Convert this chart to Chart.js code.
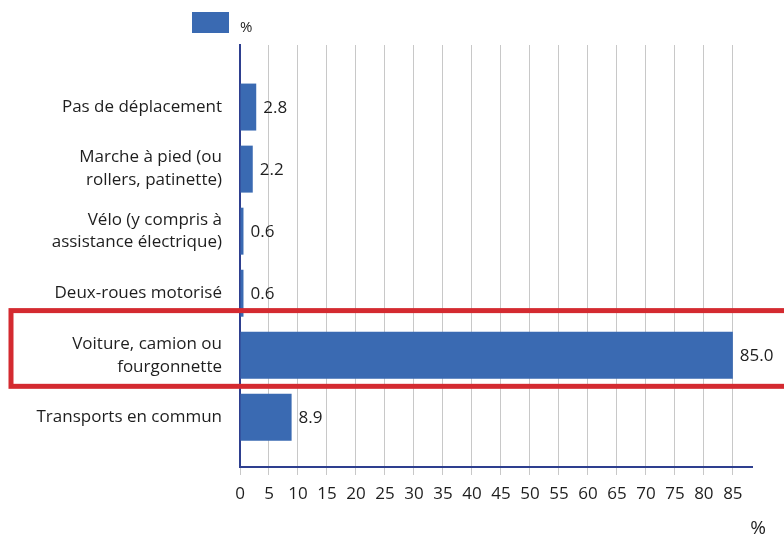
<!DOCTYPE html>
<html>
<head>
<meta charset="utf-8">
<script src="https://cdn.jsdelivr.net/npm/chart.js@4/dist/chart.umd.min.js"></script>
<style>
  html, body { margin: 0; padding: 0; background: #ffffff; }
  #wrap { width: 784px; height: 536px; }
</style>
</head>
<body>
<div id="wrap"><canvas id="chart" width="784" height="536"></canvas></div>
<script>
// Mode de transport principal pour aller travailler (%)
const categories = [
  ['Pas de déplacement'],
  ['Marche à pied (ou', 'rollers, patinette)'],
  ['Vélo (y compris à', 'assistance électrique)'],
  ['Deux-roues motorisé'],
  ['Voiture, camion ou', 'fourgonnette'],
  ['Transports en commun']
];
const shares = [2.8, 2.2, 0.6, 0.6, 85.0, 8.9];
const seriesLabel = '%';
const xTickValues = [0, 5, 10, 15, 20, 25, 30, 35, 40, 45, 50, 55, 60, 65, 70, 75, 80, 85];
const axisUnit = '%';
const highlightedIndex = 4;

const BAR_COLOR = '#3a6ab2';
const AXIS_COLOR = '#2e3f8f';
const GRID_COLOR = '#c8c8c8';
const TEXT_COLOR = '#1e1e1e';
const FRAME_COLOR = '#d42a30';
const FONT = "'Open Sans', 'DejaVu Sans', sans-serif";

// Value labels at the end of each bar
const valueLabels = {
  id: 'valueLabels',
  afterDatasetsDraw(chart) {
    const ctx = chart.ctx;
    const meta = chart.getDatasetMeta(0);
    ctx.save();
    ctx.font = '17px ' + FONT;
    ctx.fillStyle = TEXT_COLOR;
    ctx.textAlign = 'left';
    ctx.textBaseline = 'middle';
    meta.data.forEach((bar, i) => {
      ctx.fillText(shares[i].toFixed(1), bar.x + 7, bar.y + 1);
    });
    ctx.restore();
  }
};

// Legend swatch, red frame around the highlighted row, and the unit label
const decorations = {
  id: 'decorations',
  afterDraw(chart) {
    const ctx = chart.ctx;
    const area = chart.chartArea;
    const y = chart.scales.y;
    ctx.save();

    // legend
    ctx.fillStyle = BAR_COLOR;
    ctx.fillRect(area.left - 48, 12, 37, 21);
    ctx.fillStyle = TEXT_COLOR;
    ctx.font = '15px ' + FONT;
    ctx.textAlign = 'left';
    ctx.textBaseline = 'alphabetic';
    ctx.fillText(seriesLabel, area.left, 32);

    // highlight frame
    const top = y.getPixelForValue(highlightedIndex - 0.72);
    const bottom = y.getPixelForValue(highlightedIndex + 0.5);
    ctx.strokeStyle = FRAME_COLOR;
    ctx.lineWidth = 5;
    ctx.strokeRect(11, top, chart.width + 20, bottom - top);

    // unit of the horizontal axis
    ctx.fillStyle = TEXT_COLOR;
    ctx.font = '19px ' + FONT;
    ctx.textAlign = 'center';
    ctx.fillText(axisUnit, area.right + 6, 534);
    ctx.restore();
  }
};

new Chart(document.getElementById('chart'), {
  type: 'bar',
  data: {
    datasets: [{
      label: seriesLabel,
      data: shares.map((v, i) => ({ x: v, y: i })),
      backgroundColor: BAR_COLOR,
      borderWidth: 0,
      barPercentage: 0.757,
      categoryPercentage: 1
    }]
  },
  options: {
    indexAxis: 'y',
    responsive: false,
    animation: false,
    devicePixelRatio: 1,
    layout: { padding: { top: 45, right: 32, bottom: 0, left: 0 } },
    plugins: {
      legend: { display: false },
      tooltip: { enabled: false }
    },
    scales: {
      x: {
        type: 'linear',
        position: 'bottom',
        min: 0,
        max: 88.3,
        afterBuildTicks: (scale) => { scale.ticks = xTickValues.map(v => ({ value: v })); },
        afterFit: (scale) => { scale.height = 69; },
        grid: { color: GRID_COLOR, lineWidth: 1, tickLength: 8, tickColor: GRID_COLOR },
        border: { color: AXIS_COLOR, width: 2 },
        ticks: {
          color: TEXT_COLOR,
          font: { family: FONT, size: 17 },
          padding: 9,
          maxRotation: 0,
          autoSkip: false
        }
      },
      y: {
        type: 'linear',
        reverse: true,
        offset: false,
        min: -1.0,
        max: 5.8,
        afterBuildTicks: (scale) => { scale.ticks = categories.map((_, i) => ({ value: i })); },
        afterFit: (scale) => { scale.width = 240; },
        grid: { display: false, drawTicks: false, offset: false },
        border: { color: AXIS_COLOR, width: 2 },
        ticks: {
          color: TEXT_COLOR,
          font: { family: FONT, size: 17, lineHeight: 1.35 },
          padding: 18,
          autoSkip: false,
          callback: (value) => categories[value]
        }
      }
    }
  },
  plugins: [valueLabels, decorations]
});
</script>
</body>
</html>
